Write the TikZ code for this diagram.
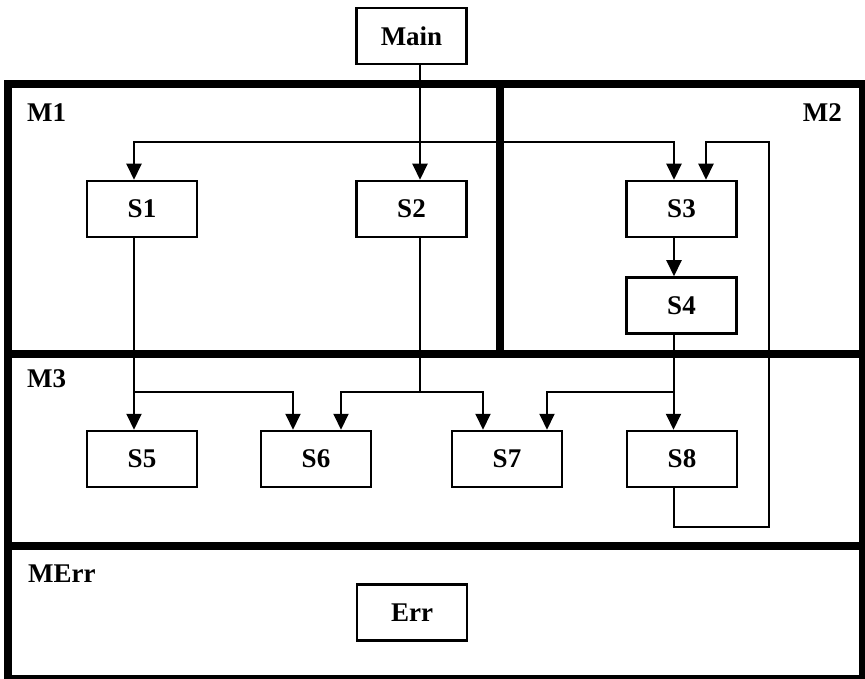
\documentclass[tikz,border=0pt]{standalone}
\usepackage{fontspec}
\setmainfont{Liberation Serif}
\usetikzlibrary{arrows.meta}
\begin{document}
\begin{tikzpicture}[x=1pt,y=-1pt,
  box/.style={draw,line width=2.5pt,minimum width=110pt,minimum height=56pt,inner sep=0pt,font=\bfseries\fontsize{27}{32}\selectfont},
  lbl/.style={inner sep=0pt,font=\bfseries\fontsize{27}{32}\selectfont},
  conn/.style={line width=2pt,-{Triangle[width=15pt,length=16pt]}},
  wire/.style={line width=2pt},
  frame/.style={line width=8pt}]
\useasboundingbox (0,0) rectangle (865,679);
\clip (0,0) rectangle (865,679);
% module frames
\draw[frame] (7.5,84) rectangle (863,679);
\draw[frame] (7.5,353.5) -- (863,353.5);
\draw[frame] (7.5,546) -- (863,546);
\draw[frame] (500,84) -- (500,353.5);
% labels
\node[lbl,anchor=base west] (m1) at (27,122) {M1};
\node[lbl,anchor=base east] (m2) at (842,122) {M2};
\node[lbl,anchor=base west] (m3) at (27,387) {M3};
\node[lbl,anchor=base west] (merr) at (28,582) {MErr};
% boxes
\node[box] (Main) at (411.5,36) {Main};
\node[box] (S1) at (142,209) {S1};
\node[box] (S2) at (411.5,209) {S2};
\node[box] (S3) at (681.5,209) {S3};
\node[box] (S4) at (681.5,305.5) {S4};
\node[box] (S5) at (142,459) {S5};
\node[box] (S6) at (316,459) {S6};
\node[box] (S7) at (507,459) {S7};
\node[box] (S8) at (682,459) {S8};
\node[box] (Err) at (412,612.5) {Err};
% junctions
\coordinate (j1) at (420,142);
\coordinate (j2) at (134,392);
\coordinate (j3) at (420,392);
\coordinate (j4) at (673.5,392);
\coordinate (r1) at (769,527);
\coordinate (r2) at (769,142);
% connectors
\draw[conn] ([xshift=8.5pt]Main.south) -- ([xshift=8.5pt]S2.north);
\draw[conn] (j1) -| ([xshift=-8pt]S1.north);
\draw[conn] (j1) -| ([xshift=-7.5pt]S3.north);
\draw[conn] ([xshift=-7.5pt]S3.south) -- ([xshift=-7.5pt]S4.north);
\draw[conn] ([xshift=-8pt]S1.south) -- ([xshift=-8pt]S5.north);
\draw[conn] (j2) -| ([xshift=-23pt]S6.north);
\draw[wire] ([xshift=8.5pt]S2.south) -- (j3);
\draw[conn] (j3) -| ([xshift=25pt]S6.north);
\draw[conn] (j3) -| ([xshift=-24pt]S7.north);
\draw[conn] ([xshift=-8pt]S4.south) -- ([xshift=-8.5pt]S8.north);
\draw[conn] (j4) -| ([xshift=40pt]S7.north);
\draw[conn] ([xshift=-8.5pt]S8.south) |- (r1) -- (r2) -| ([xshift=24.5pt]S3.north);
\end{tikzpicture}
\end{document}
